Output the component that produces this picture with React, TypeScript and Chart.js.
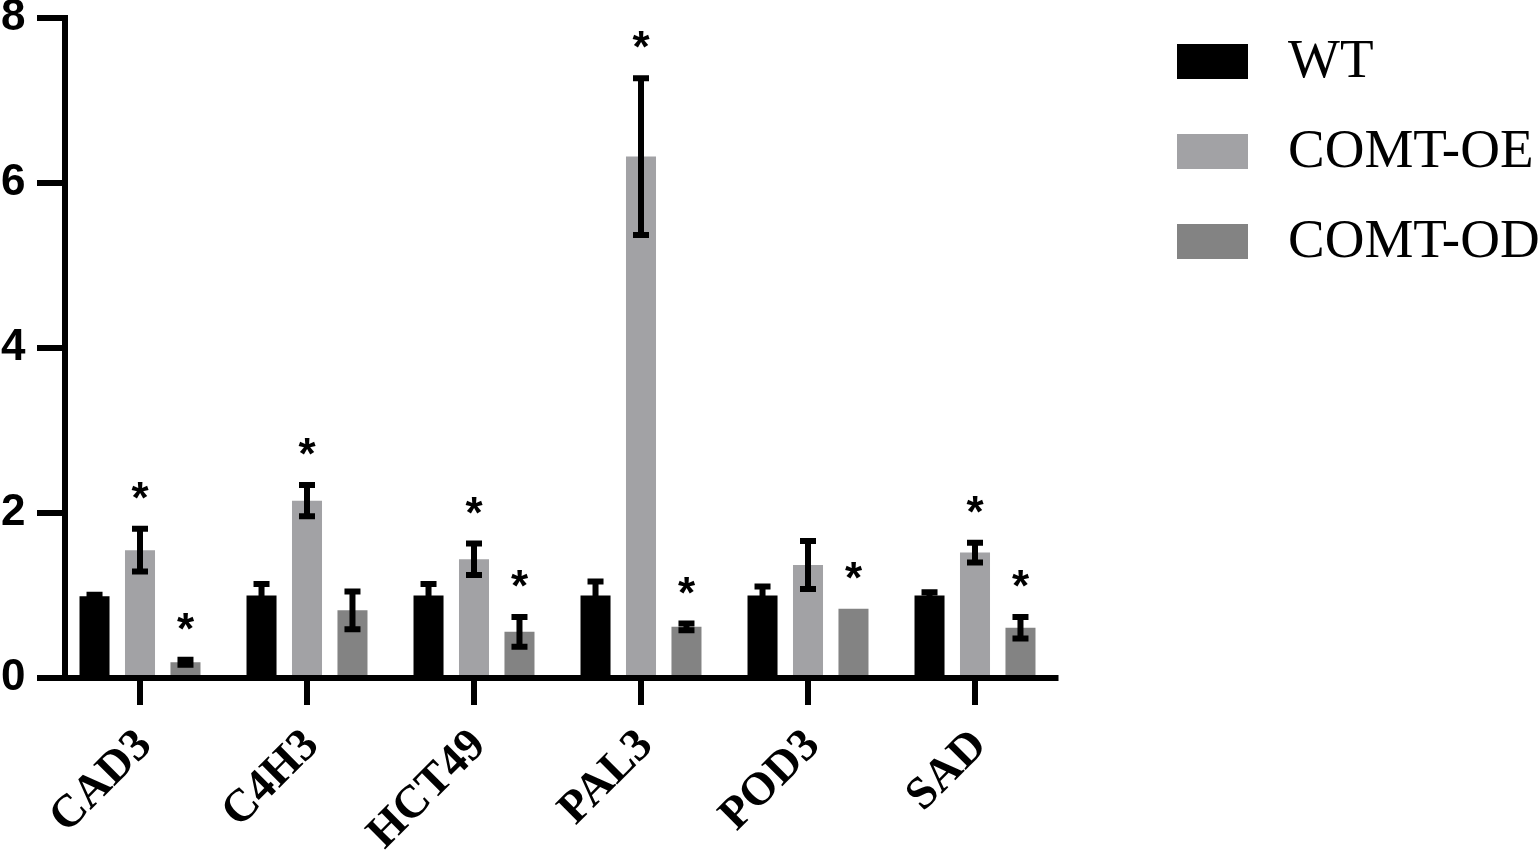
import { useEffect, useRef } from "react"
import { Chart, registerables } from "chart.js"

Chart.register(...registerables)

const categories = ["CAD3", "C4H3", "HCT49", "PAL3", "POD3", "SAD"]
const seriesNames = ["WT", "COMT-OE", "COMT-OD"]
const seriesColors = ["#000000", "#a2a2a5", "#838383"]

const wtMean = [0.99, 1.0, 1.0, 1.0, 1.0, 1.0]
const wtErr = [0.02, 0.14, 0.14, 0.17, 0.11, 0.04]
const oeMean = [1.55, 2.15, 1.44, 6.32, 1.37, 1.52]
const oeErr = [0.26, 0.19, 0.19, 0.95, 0.29, 0.12]
const odMean = [0.19, 0.82, 0.56, 0.62, 0.84, 0.61]
const odErr = [0.03, 0.23, 0.18, 0.04, 0, 0.13]

const wtStar = [false, false, false, false, false, false]
const oeStar = [true, true, true, true, false, true]
const odStar = [true, false, true, true, true, true]

const yTicks = [0, 2, 4, 6, 8]

const errors = [wtErr, oeErr, odErr]
const stars = [wtStar, oeStar, odStar]

// axes, error bars, stars and legend drawn on top of the bars
const extrasPlugin = {
  id: "extras",
  afterDatasetsDraw(chart: Chart) {
    const ctx = chart.ctx
    const area = chart.chartArea
    const x = chart.scales.x
    const y = chart.scales.y
    const axisX = area.left + 8.5
    const zeroY = y.getPixelForValue(0)

    ctx.save()
    ctx.strokeStyle = "#000"
    ctx.fillStyle = "#000"

    // error bars
    chart.data.datasets.forEach((ds, i) => {
      const meta = chart.getDatasetMeta(i)
      meta.data.forEach((bar, j) => {
        const mean = ds.data[j] as number
        const err = errors[i][j]
        if (err > 0) {
          const top = y.getPixelForValue(mean + err)
          const bottom = y.getPixelForValue(mean - err)
          ctx.lineWidth = 6
          ctx.beginPath()
          ctx.moveTo(bar.x, top)
          ctx.lineTo(bar.x, bottom)
          ctx.moveTo(bar.x - 8, top)
          ctx.lineTo(bar.x + 8, top)
          ctx.moveTo(bar.x - 8, bottom)
          ctx.lineTo(bar.x + 8, bottom)
          ctx.stroke()
        }
        if (stars[i][j]) {
          const top = y.getPixelForValue(mean + err)
          ctx.font = "bold 44px 'Liberation Sans', Arial, sans-serif"
          ctx.textAlign = "center"
          ctx.textBaseline = "alphabetic"
          ctx.fillText("*", bar.x, top - 16)
        }
      })
    })

    // axes
    ctx.lineWidth = 6
    ctx.beginPath()
    ctx.moveTo(axisX, y.getPixelForValue(8) - 3)
    ctx.lineTo(axisX, zeroY)
    yTicks.forEach((t) => {
      const py = y.getPixelForValue(t)
      ctx.moveTo(axisX - 28, py)
      ctx.lineTo(axisX + 3, py)
    })
    ctx.moveTo(axisX - 28, zeroY)
    ctx.lineTo(area.right, zeroY)
    categories.forEach((_, j) => {
      const px = x.getPixelForValue(j)
      ctx.moveTo(px, zeroY)
      ctx.lineTo(px, zeroY + 27)
    })
    ctx.stroke()

    // legend
    chart.data.datasets.forEach((ds, i) => {
      const boxTop = 44 + i * 90
      ctx.fillStyle = ds.backgroundColor as string
      ctx.fillRect(1177, boxTop, 71, 35)
      ctx.fillStyle = "#000"
      ctx.font = "55px 'Liberation Serif', 'Times New Roman', serif"
      ctx.textAlign = "left"
      ctx.textBaseline = "middle"
      ctx.fillText(ds.label as string, 1288, boxTop + 19)
    })
    ctx.restore()
  },
}

export default function App() {
  const chartRef = useRef<HTMLCanvasElement>(null)
  const chartInstance = useRef<Chart | null>(null)

  useEffect(() => {
    if (!chartRef.current) return
    if (chartInstance.current) {
      chartInstance.current.destroy()
    }
    const ctx = chartRef.current.getContext("2d")
    if (!ctx) return

    const means = [wtMean, oeMean, odMean]

    chartInstance.current = new Chart(ctx, {
      type: "bar",
      data: {
        labels: categories,
        datasets: seriesNames.map((name, i) => ({
          label: name,
          data: means[i],
          backgroundColor: seriesColors[i],
          borderWidth: 0,
          categoryPercentage: 0.817,
          barPercentage: 0.66,
        })),
      },
      options: {
        responsive: true,
        maintainAspectRatio: false,
        animation: false,
        layout: {
          padding: { left: 0, top: 18, right: 479.5, bottom: 0 },
        },
        plugins: {
          legend: { display: false },
          tooltip: { enabled: false },
        },
        scales: {
          x: {
            offset: true,
            grid: { display: false, drawTicks: false },
            border: { display: false },
            afterFit: (scale) => {
              scale.height = 172
            },
            ticks: {
              autoSkip: false,
              minRotation: 45,
              maxRotation: 45,
              padding: 41,
              labelOffset: 5,
              color: "#000",
              font: {
                family: "'Liberation Serif', 'Times New Roman', serif",
                weight: "bold",
                size: 46,
              },
            },
          },
          y: {
            min: 0,
            max: 8,
            grid: { display: false, drawTicks: false },
            border: { display: false },
            afterFit: (scale) => {
              scale.width = 56.5
              scale.paddingTop = 0
              scale.paddingBottom = 0
            },
            ticks: {
              stepSize: 2,
              padding: 31,
              color: "#000",
              font: {
                family: "'Liberation Sans', Arial, sans-serif",
                weight: "bold",
                size: 44,
                lineHeight: 0.8,
              },
            },
          },
        },
      },
      plugins: [extrasPlugin],
    })

    return () => {
      if (chartInstance.current) {
        chartInstance.current.destroy()
        chartInstance.current = null
      }
    }
  }, [])

  return (
    <div style={{ position: "absolute", left: 0, top: 0, width: 1538, height: 850, background: "#fff" }}>
      <canvas ref={chartRef} />
    </div>
  )
}
